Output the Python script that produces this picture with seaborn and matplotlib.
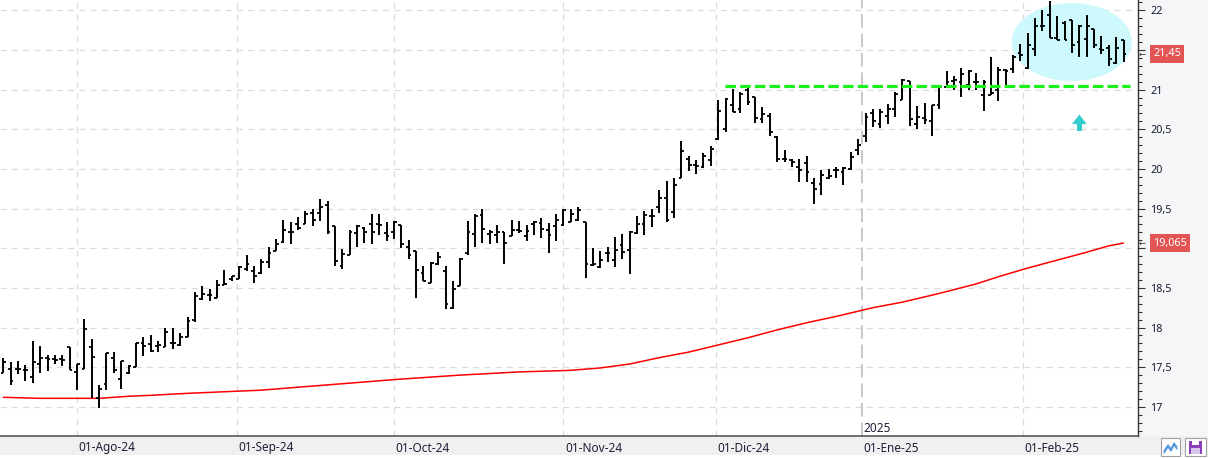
import numpy as np
import pandas as pd
import matplotlib
matplotlib.use("Agg")
import matplotlib.pyplot as plt
import matplotlib.transforms as mtransforms
from matplotlib.patches import Ellipse, Polygon, Rectangle
from matplotlib.lines import Line2D
from matplotlib.ticker import MultipleLocator, FuncFormatter
import seaborn as sns

# ---------------- data ----------------
opens = [17.43, 17.48, 17.48, 17.47, 17.37, 17.54, 17.61, 17.60, 17.60, 17.75,
         17.44, 17.48, 17.75, 17.11, 17.29, 17.61, 17.35, 17.43, 17.50, 17.81,
         17.79, 17.77, 17.76, 17.81, 17.78, 17.88, 18.10, 18.36, 18.41, 18.37,
         18.54, 18.61, 18.61, 18.74, 18.71, 18.69, 18.82, 18.97, 19.08, 19.21,
         19.30, 19.31, 19.44, 19.44, 19.54, 19.28, 18.78, 18.92, 19.19, 19.26,
         19.31, 19.30, 19.19, 19.20, 19.29, 19.02, 18.96, 18.69, 18.56, 18.80,
         18.71, 18.25, 18.52, 18.94, 19.18, 19.42, 19.18, 19.17, 19.21, 19.15,
         19.23, 19.16, 19.31, 19.32, 19.23, 19.28, 19.29, 19.33, 19.36, 19.33,
         18.79, 18.76, 18.94, 18.85, 19.04, 18.98, 19.19, 19.31, 19.41, 19.52,
         19.63, 19.46, 19.88, 20.12, 20.05, 20.02, 20.11, 20.38, 20.50, 20.80,
         20.76, 20.99, 20.91, 20.63, 20.67, 20.40, 20.12, 20.11, 20.02, 20.07,
         19.82, 19.81, 19.88, 19.99, 19.96, 20.00, 20.24, 20.41, 20.70, 20.57,
         20.67, 20.75, 20.87, 21.11, 20.57, 20.64, 20.60, 20.81, 21.03, 21.11,
         21.09, 21.06, 21.10, 20.93, 20.93, 21.00, 21.25, 21.26, 21.46, 21.27,
         21.51, 21.80, 21.94, 21.65, 21.84, 21.88, 21.60, 21.64, 21.76, 21.51,
         21.53, 21.33, 21.62]
highs = [17.61, 17.57, 17.58, 17.53, 17.83, 17.77, 17.65, 17.65, 17.65, 17.75,
         17.54, 18.11, 17.86, 17.27, 17.68, 17.69, 17.58, 17.53, 17.81, 17.88,
         17.91, 17.83, 18.00, 18.00, 17.93, 18.13, 18.45, 18.52, 18.48, 18.60,
         18.73, 18.65, 18.78, 18.91, 18.78, 18.87, 19.01, 19.12, 19.36, 19.33,
         19.39, 19.47, 19.49, 19.62, 19.60, 19.28, 18.99, 19.23, 19.29, 19.27,
         19.43, 19.43, 19.33, 19.34, 19.29, 19.10, 18.96, 18.78, 18.82, 18.95,
         18.78, 18.59, 18.88, 19.34, 19.43, 19.50, 19.23, 19.29, 19.21, 19.36,
         19.34, 19.29, 19.34, 19.38, 19.32, 19.43, 19.49, 19.49, 19.52, 19.33,
         19.00, 18.96, 19.01, 19.14, 19.18, 19.22, 19.41, 19.47, 19.49, 19.73,
         19.85, 19.88, 20.35, 20.16, 20.11, 20.20, 20.29, 20.87, 20.90, 21.01,
         20.97, 21.05, 20.91, 20.78, 20.70, 20.41, 20.24, 20.13, 20.13, 20.16,
         19.88, 19.99, 20.00, 20.02, 20.02, 20.21, 20.38, 20.70, 20.75, 20.76,
         20.82, 20.97, 21.14, 21.11, 20.79, 20.83, 20.81, 21.03, 21.23, 21.17,
         21.27, 21.25, 21.21, 21.12, 21.41, 21.29, 21.26, 21.44, 21.57, 21.72,
         21.90, 22.01, 22.12, 21.93, 21.86, 21.88, 21.81, 21.94, 21.76, 21.68,
         21.56, 21.66, 21.63]
lows = [17.43, 17.27, 17.42, 17.33, 17.30, 17.43, 17.45, 17.54, 17.51, 17.46,
        17.21, 17.48, 17.11, 16.98, 17.21, 17.43, 17.22, 17.41, 17.50, 17.64,
        17.69, 17.69, 17.75, 17.73, 17.77, 17.88, 18.07, 18.35, 18.33, 18.37,
        18.54, 18.59, 18.61, 18.71, 18.56, 18.67, 18.75, 18.96, 19.07, 19.05,
        19.23, 19.31, 19.28, 19.34, 19.18, 18.78, 18.74, 18.92, 19.02, 19.07,
        19.05, 19.17, 19.09, 19.11, 19.00, 18.86, 18.37, 18.59, 18.56, 18.79,
        18.23, 18.23, 18.52, 18.92, 19.02, 19.07, 19.05, 19.07, 18.80, 19.15,
        19.19, 19.09, 19.17, 19.13, 18.94, 19.09, 19.28, 19.33, 19.34, 18.62,
        18.78, 18.75, 18.82, 18.76, 18.86, 18.68, 19.18, 19.17, 19.27, 19.45,
        19.33, 19.38, 19.88, 19.97, 19.94, 20.01, 20.04, 20.36, 20.46, 20.72,
        20.70, 20.81, 20.58, 20.58, 20.41, 20.09, 20.09, 20.02, 19.84, 19.84,
        19.56, 19.67, 19.87, 19.89, 19.80, 19.99, 20.17, 20.34, 20.53, 20.52,
        20.57, 20.65, 20.87, 20.54, 20.50, 20.57, 20.41, 20.76, 21.02, 21.00,
        20.91, 20.99, 21.00, 20.73, 20.93, 20.86, 21.05, 21.21, 21.36, 21.26,
        21.43, 21.74, 21.65, 21.63, 21.62, 21.46, 21.41, 21.41, 21.52, 21.45,
        21.30, 21.32, 21.35]
closes = [17.57, 17.33, 17.48, 17.47, 17.56, 17.61, 17.60, 17.59, 17.59, 17.47,
          17.54, 17.98, 17.63, 17.23, 17.68, 17.47, 17.58, 17.51, 17.80, 17.77,
          17.70, 17.78, 17.94, 17.81, 17.88, 18.08, 18.40, 18.42, 18.41, 18.54,
          18.55, 18.65, 18.76, 18.80, 18.65, 18.83, 18.94, 19.05, 19.23, 19.21,
          19.25, 19.43, 19.36, 19.52, 19.20, 18.84, 18.93, 19.20, 19.28, 19.21,
          19.20, 19.29, 19.16, 19.33, 19.05, 18.91, 18.73, 18.59, 18.81, 18.89,
          18.30, 18.48, 18.87, 19.20, 19.41, 19.24, 19.21, 19.20, 19.06, 19.23,
          19.22, 19.22, 19.33, 19.24, 19.17, 19.35, 19.48, 19.43, 19.48, 18.80,
          18.80, 18.85, 18.94, 18.98, 18.95, 19.20, 19.31, 19.42, 19.41, 19.63,
          19.36, 19.80, 20.23, 20.05, 20.04, 20.16, 20.25, 20.73, 20.88, 20.72,
          20.95, 20.85, 20.64, 20.69, 20.46, 20.12, 20.13, 20.09, 19.99, 19.96,
          19.75, 19.92, 19.91, 19.99, 20.01, 20.15, 20.30, 20.65, 20.60, 20.72,
          20.75, 20.95, 21.12, 20.63, 20.65, 20.62, 20.80, 21.03, 21.10, 21.12,
          21.20, 21.23, 21.10, 21.10, 20.96, 21.25, 21.23, 21.41, 21.44, 21.56,
          21.80, 21.80, 21.65, 21.63, 21.62, 21.56, 21.80, 21.80, 21.56, 21.50,
          21.39, 21.52, 21.45]

# 200-session moving average, read at selected sessions
ma_idx = [0, 5, 13, 17, 20, 25, 30, 35, 39, 54, 62, 70, 77, 81, 85, 89, 93, 97,
          101, 105, 109, 113, 118, 122, 127, 132, 135, 139, 143, 147, 150, 152]
ma_val = [17.12, 17.107, 17.107, 17.133, 17.145, 17.17, 17.19, 17.21, 17.24,
          17.35, 17.40, 17.44, 17.46, 17.49, 17.54, 17.62, 17.69, 17.78, 17.87,
          17.97, 18.06, 18.14, 18.25, 18.32, 18.43, 18.55, 18.64, 18.75, 18.85,
          18.95, 19.03, 19.065]

holidays = ["2024-12-25", "2024-12-26", "2025-01-01"]
dates = pd.bdate_range("2024-07-18", "2025-02-20", freq="C", holidays=holidays)

month_starts = ["2024-08-01", "2024-09-01", "2024-10-01", "2024-11-01",
                "2024-12-01", "2025-01-01", "2025-02-01"]
month_labels = ["01-Ago-24", "01-Sep-24", "01-Oct-24", "01-Nov-24",
                "01-Dic-24", "01-Ene-25", "01-Feb-25"]
year_start = "2025-01-01"
year_label = "2025"

y_ticks = [17, 17.5, 18, 18.5, 19, 19.5, 20, 20.5, 21, 21.5, 22]
last_close = 21.45
last_ma = 19.065
last_close_label = "21,45"
last_ma_label = "19,065"

resistance_level = 21.05
resistance_span = (97.9, 152.9)

# ---------------- style ----------------
sns.set_style("white")
plt.rcParams['font.family'] = ['Noto Sans', 'DejaVu Sans']

W, H, DPI = 1208, 458, 100
fig = plt.figure(figsize=(W / DPI, H / DPI), dpi=DPI)
fig.patch.set_facecolor('white')

plot_w, plot_h, bottom_h = 1138, 436, 22
ax = fig.add_axes([0, bottom_h / H, plot_w / W, plot_h / H])
ax.set_facecolor('white')

# panels
fig.patches.append(Rectangle((plot_w / W, bottom_h / H), (W - plot_w) / W, plot_h / H,
                             transform=fig.transFigure, fc='#f5f6f8', ec='none', zorder=-5))
fig.patches.append(Rectangle((0, 3 / H), 1, (bottom_h - 3) / H,
                             transform=fig.transFigure, fc='#f0f0f0', ec='none', zorder=-5))

x = np.arange(len(opens))
ax.set_xlim(-0.448, 153.96)
ax.set_ylim(16.632, 22.13)

# month positions via calendar interpolation onto session index
ords = np.array([d.toordinal() for d in dates])
def pos_of(day):
    return float(np.interp(pd.Timestamp(day).toordinal(), ords, x))
month_pos = [pos_of(d) for d in month_starts]
year_pos = pos_of(year_start)

# grid
for yv in y_ticks:
    ax.axhline(yv, color='#dcdcdc', lw=0.9, ls=(0, (5, 4)), zorder=0)
for mp, ms in zip(month_pos, month_starts):
    if ms == year_start:
        continue
    ax.axvline(mp, color='#dcdcdc', lw=0.9, ls=(0, (5, 4)), zorder=0)
ax.axvline(year_pos, color='#c8c8c8', lw=1.4, ls=(0, (7, 3)), zorder=0)

# highlight ellipse
ax.add_patch(Ellipse((144.97, 21.60), 16.3, 0.985, fc='#cdf8fc', ec='none', zorder=1))

# OHLC bars
ax.vlines(x, lows, highs, color='black', lw=1.4, zorder=3)
ax.hlines(opens, x - 0.38, x, color='black', lw=1.3, zorder=3)
ax.hlines(closes, x, x + 0.38, color='black', lw=1.3, zorder=3)

# moving average
sns.lineplot(x=ma_idx, y=ma_val, ax=ax, color='#ff0000', lw=1.1, zorder=2)

# resistance line
ax.hlines(resistance_level, resistance_span[0], resistance_span[1], color='#1cf01c',
          lw=2.3, linestyles=[(0, (3.3, 1.3))], zorder=4)

# cyan arrow
ax.add_patch(Polygon([(145.0, 20.565), (147.0, 20.565), (146.0, 20.685)], closed=True,
                     fc='#33cccc', ec='none', zorder=4))
ax.add_patch(Rectangle((145.66, 20.478), 0.68, 0.09, fc='#33cccc', ec='none', zorder=4))

# axes & ticks
for s in ['top', 'left']:
    ax.spines[s].set_visible(False)
ax.spines['right'].set_color('#333333')
ax.spines['right'].set_linewidth(1.0)
ax.spines['bottom'].set_color('#4a4a4a')
ax.spines['bottom'].set_linewidth(1.1)

boxed_values = [last_close, last_ma]
def ylab(v, p):
    # labels hidden behind the last-value boxes are not drawn
    if any(abs(v - b) < 0.12 for b in boxed_values):
        return ''
    return f"{v:g}".replace('.', ',')

ax.yaxis.tick_right()
ax.set_yticks(y_ticks)
ax.yaxis.set_minor_locator(MultipleLocator(0.1))
ax.yaxis.set_major_formatter(FuncFormatter(ylab))
ax.tick_params(axis='y', which='major', direction='out', length=5, width=0.8,
               color='#333333', labelsize=7.8, labelcolor='#1a1a33', pad=4)
ax.tick_params(axis='y', which='minor', direction='out', length=2.8, width=0.8,
               color='#333333')

ax.set_xticks(month_pos)
ax.set_xticklabels([''] * len(month_pos))
ax.tick_params(axis='x', which='major', direction='out', length=4, width=0.9,
               color='#333333')

trans_x = mtransforms.blended_transform_factory(ax.transData, ax.transAxes)
off = mtransforms.ScaledTranslation(1.5 / DPI, 0, fig.dpi_scale_trans)
for mp, lab in zip(month_pos, month_labels):
    ax.text(mp, -12 / plot_h, lab, transform=trans_x + off, ha='left', va='center',
            fontsize=8.5, color='#1e1e38', clip_on=False)
ax.text(year_pos, 7 / plot_h, year_label, transform=trans_x + off, ha='left',
        va='center', fontsize=8.5, color='#1e1e38')

# last-value boxes
trans_y = mtransforms.blended_transform_factory(ax.transAxes, ax.transData)
for val, lab in [(last_close, last_close_label), (last_ma, last_ma_label)]:
    ax.text(1 + 15 / plot_w, val, lab, transform=trans_y, ha='left', va='center',
            fontsize=7.8, color='white', clip_on=False,
            bbox=dict(boxstyle='square,pad=0.3', fc='#e35555', ec='none'))
    ax.text(1 + 1.0 / plot_w, val, '←', transform=trans_y, ha='left', va='center',
            fontsize=6, color='#333333', family='DejaVu Sans', clip_on=False)

# bottom-right buttons
def figrect(x0, y0, w, h, **kw):
    fig.patches.append(Rectangle((x0 / W, (H - y0 - h) / H), w / W, h / H,
                                 transform=fig.transFigure, **kw))
figrect(1161, 438, 19, 18, fc='white', ec='#a0a0a0', lw=0.8)
fig.lines.append(Line2D(np.array([1164, 1168, 1171, 1174, 1177]) / W,
                        (H - np.array([451, 445, 449, 443, 447])) / H,
                        transform=fig.transFigure, color='#4a90d9', lw=0.9))
fig.lines.append(Line2D(np.array([1164, 1168, 1171, 1174, 1177]) / W,
                        (H - np.array([453, 447, 451, 445, 449])) / H,
                        transform=fig.transFigure, color='#4a90d9', lw=0.9))
figrect(1185, 438, 21, 18, fc='white', ec='#a0a0a0', lw=0.8)
figrect(1189, 441, 13, 13, fc='#8b3fb8', ec='none')
figrect(1192, 441, 7, 4, fc='white', ec='none')
figrect(1191, 448, 9, 6, fc='#d8c4ea', ec='none')

fig.savefig('out.png', dpi=DPI)
